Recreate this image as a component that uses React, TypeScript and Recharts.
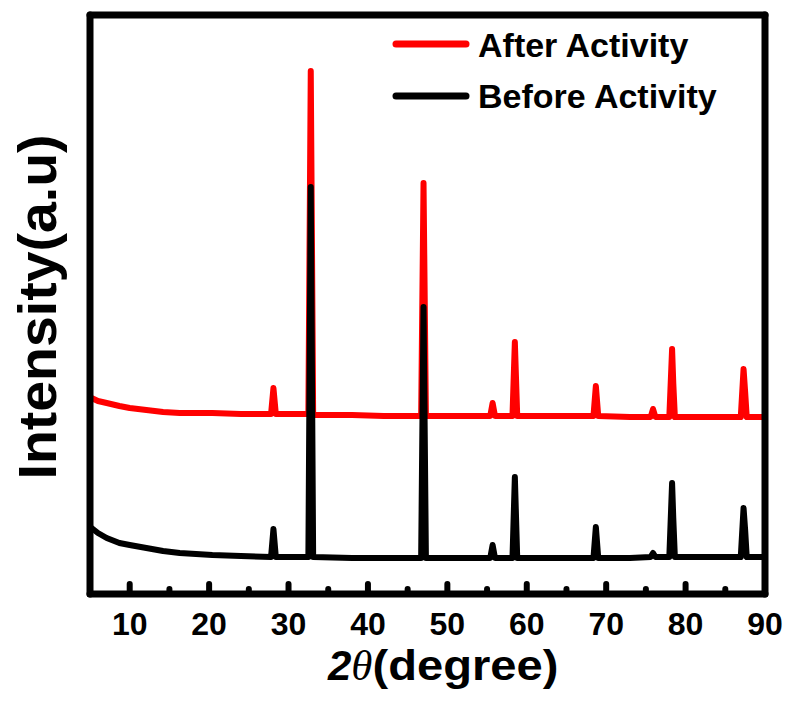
import { LineChart, Line, XAxis, YAxis, Legend } from 'recharts';

const FONT = '"Liberation Sans", Arial, Helvetica, sans-serif';

// 2θ positions (degree)
const twoTheta = [
  5.2, 6.0, 7.1, 8.7, 10.0, 12.1, 14.2, 16.3, 20.4, 24.0,
  27.8, 28.1, 28.4,
  32.5, 32.8, 33.1,
  38.0, 42.0,
  46.7, 47.0, 47.3,
  51.0, 55.4, 55.7, 56.0,
  58.2, 58.5, 58.8,
  63.0, 68.4, 68.7, 69.0,
  73.0, 75.6, 75.9, 76.2,
  77.95, 78.3, 78.45, 78.65,
  83.0, 86.95, 87.3, 87.5, 87.7,
  89.7,
];

// intensity (a.u.), offset traces
const afterActivity = [
  196, 193, 191, 188, 186, 184, 182, 181, 181, 180,
  180, 206, 180,
  180, 523, 179,
  179, 178,
  178, 411, 178,
  178, 178, 191, 178,
  178, 252, 178,
  178, 178, 208, 178,
  177, 177, 185, 177,
  177, 245, 211, 177,
  177, 177, 225, 202, 177,
  177,
];

const beforeActivity = [
  66, 61, 56, 51, 49, 46, 43, 41, 39, 38,
  37, 65, 37,
  37, 407, 37,
  36, 36,
  36, 287, 36,
  36, 36, 49, 36,
  36, 117, 36,
  36, 36, 67, 36,
  36, 37, 41, 37,
  37, 111, 76, 37,
  37, 37, 86, 64, 37,
  37,
];

const xTicks = [10, 15, 20, 25, 30, 35, 40, 45, 50, 55, 60, 65, 70, 75, 80, 85, 90];

const data = twoTheta.map((t, i) => ({
  t,
  after: afterActivity[i],
  before: beforeActivity[i],
}));

const XTick = ({ x, y, payload }: { x: number; y: number; payload: { value: number } }) => {
  const v = payload.value;
  const major = v % 10 === 0;
  return (
    <g>
      {v < 90 && (
        <line
          x1={x}
          x2={x}
          y1={y}
          y2={y - (major ? 10 : 5)}
          stroke="#000"
          strokeWidth={6}
          strokeLinecap="round"
        />
      )}
      {major && (
        <text
          x={x}
          y={y + 41}
          textAnchor="middle"
          fontFamily={FONT}
          fontWeight="bold"
          fontSize={32}
          fill="#000"
        >
          {v}
        </text>
      )}
    </g>
  );
};

const XTitle = () => (
  <text x={328} y={680} fontFamily={FONT} fontWeight="bold" fontSize={42} fill="#000">
    <tspan fontStyle="italic">2</tspan>
    <tspan
      fontFamily='"Liberation Serif", "Times New Roman", serif'
      fontWeight="normal"
      fontStyle="italic"
      fontSize={43}
      dx={0}
    >
      θ
    </tspan>
    <tspan dx={0} textLength={186} lengthAdjust="spacingAndGlyphs">
      (degree)
    </tspan>
  </text>
);

const YTitle = () => (
  <text
    x={56}
    y={307}
    transform="rotate(-90, 56, 307)"
    textAnchor="middle"
    fontFamily={FONT}
    fontWeight="bold"
    fontSize={54}
    textLength={345}
    lengthAdjust="spacingAndGlyphs"
    fill="#000"
  >
    Intensity(a.u)
  </text>
);

const renderLegend = ({ payload }: { payload?: Array<{ value: string; color: string }> }) => (
  <svg width={360} height={110}>
    {(payload || []).map((item, i) => (
      <g key={item.value}>
        <line
          x1={15}
          x2={85}
          y1={24 + 52 * i}
          y2={24 + 52 * i}
          stroke={item.color}
          strokeWidth={7}
          strokeLinecap="round"
        />
        <text
          x={97}
          y={37 + 51 * i}
          fontFamily={FONT}
          fontWeight="bold"
          fontSize={34}
          fill="#000"
        >
          {item.value}
        </text>
      </g>
    ))}
  </svg>
);

const frameLine = { stroke: '#000', strokeWidth: 7, strokeLinecap: 'round' as const };

export default function App() {
  return (
    <div style={{ position: 'absolute', left: 0, top: 0, background: '#fff' }}>
      <LineChart
        width={789}
        height={707}
        data={data}
        margin={{ top: 5, right: 14, bottom: 20, left: 30 }}
      >
        <XAxis
          dataKey="t"
          type="number"
          domain={[5, 90]}
          ticks={xTicks}
          height={93}
          tickSize={0}
          tickMargin={0}
          tickLine={false}
          axisLine={frameLine}
          tick={XTick}
          interval={0}
          label={<XTitle />}
        />
        <XAxis
          xAxisId="top"
          dataKey="t"
          type="number"
          domain={[5, 90]}
          orientation="top"
          height={10}
          tick={false}
          tickLine={false}
          axisLine={frameLine}
        />
        <YAxis
          type="number"
          domain={[0, 579]}
          width={60}
          tick={false}
          tickLine={false}
          axisLine={frameLine}
          label={<YTitle />}
        />
        <YAxis
          yAxisId="right"
          orientation="right"
          type="number"
          domain={[0, 579]}
          width={10}
          tick={false}
          tickLine={false}
          axisLine={frameLine}
        />
        <Legend
          layout="vertical"
          align="center"
          verticalAlign="middle"
          wrapperStyle={{ left: 381, top: 20, width: 360, height: 110 }}
          content={renderLegend}
        />
        <Line
          type="linear"
          dataKey="after"
          name="After Activity"
          stroke="#ff0000"
          strokeWidth={6}
          strokeLinejoin="round"
          strokeLinecap="round"
          dot={false}
          isAnimationActive={false}
        />
        <Line
          type="linear"
          dataKey="before"
          name="Before Activity"
          stroke="#000000"
          strokeWidth={6}
          strokeLinejoin="round"
          strokeLinecap="round"
          dot={false}
          isAnimationActive={false}
        />
      </LineChart>
    </div>
  );
}
